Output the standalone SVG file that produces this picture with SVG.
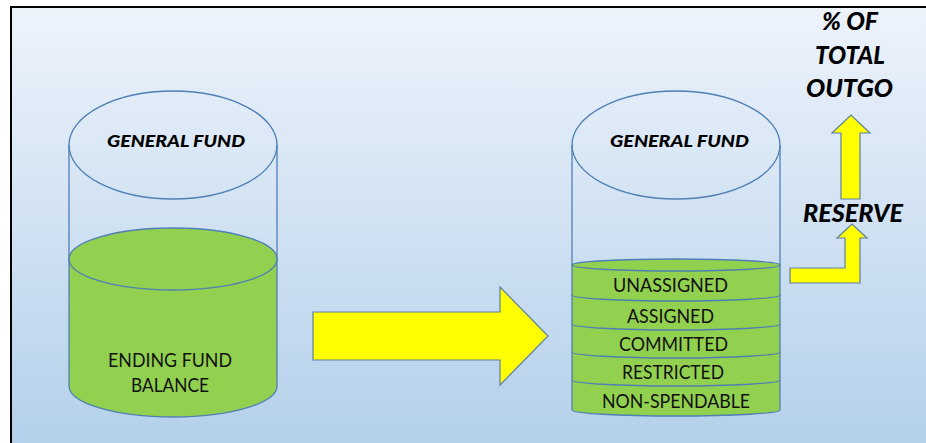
<svg xmlns="http://www.w3.org/2000/svg" width="926" height="443" viewBox="0 0 926 443">
  <defs>
    <linearGradient id="bg" x1="0" y1="0" x2="0" y2="1">
      <stop offset="0" stop-color="#edf3fb"/>
      <stop offset="1" stop-color="#b4d0ea"/>
    </linearGradient>
    <style>
      .line { fill: none; stroke: #4f7fb4; stroke-width: 1.3; }
      .liquid { fill: #92d050; stroke: #4f7fb4; stroke-width: 1.3; }
      .arrow { fill: #ffff00; stroke: #5b7fa8; stroke-width: 1.2; stroke-linejoin: miter; }
      .head { font-family: Lato, "Liberation Sans", sans-serif; font-weight: 900; font-style: italic; fill: #000; text-anchor: middle; }
      .label { font-family: Lato, "Liberation Sans", sans-serif; font-size: 19px; fill: #111; text-anchor: middle; }
    </style>
  </defs>

  <!-- page background and frame -->
  <rect x="0" y="0" width="926" height="443" fill="#ffffff"/>
  <rect x="11" y="7" width="915" height="436" fill="url(#bg)"/>
  <line x1="10" y1="7" x2="926" y2="7" stroke="#000" stroke-width="2"/>
  <line x1="11" y1="6" x2="11" y2="443" stroke="#000" stroke-width="2"/>

  <!-- left tank: whole ending fund balance -->
  <g id="tank-left">
    <path class="liquid" d="M69,259 L69,386 A104,31 0 0 0 277,386 L277,259 Z"/>
    <ellipse class="liquid" cx="173" cy="259" rx="104" ry="31"/>
    <line class="line" x1="69" y1="145" x2="69" y2="259"/>
    <line class="line" x1="277" y1="145" x2="277" y2="259"/>
    <ellipse class="line" cx="173" cy="145" rx="104" ry="54"/>
    <text class="head" x="176" y="147" font-size="17.5" textLength="138" lengthAdjust="spacingAndGlyphs">GENERAL FUND</text>
    <text class="label" x="170" y="367" textLength="124" lengthAdjust="spacingAndGlyphs">ENDING FUND</text>
    <text class="label" x="170" y="392" textLength="78" lengthAdjust="spacingAndGlyphs">BALANCE</text>
  </g>

  <!-- right tank: balance split into fund classes -->
  <g id="tank-right">
    <path class="liquid" d="M572,265 L572,410 A104,6 0 0 0 780,410 L780,265 Z"/>
    <ellipse class="liquid" cx="676" cy="265" rx="104" ry="6"/>
    <path class="line" d="M572,295 A104,6 0 0 0 780,295"/>
    <path class="line" d="M572,324 A104,6 0 0 0 780,324"/>
    <path class="line" d="M572,352 A104,6 0 0 0 780,352"/>
    <path class="line" d="M572,380 A104,6 0 0 0 780,380"/>
    <line class="line" x1="572" y1="145" x2="572" y2="265"/>
    <line class="line" x1="780" y1="145" x2="780" y2="265"/>
    <ellipse class="line" cx="676" cy="145" rx="104" ry="54"/>
    <text class="head" x="679.5" y="147" font-size="17.5" textLength="139" lengthAdjust="spacingAndGlyphs">GENERAL FUND</text>
  </g>

  <g id="layer-unassigned"><text class="label" x="670.5" y="292" textLength="115" lengthAdjust="spacingAndGlyphs">UNASSIGNED</text></g>
  <g id="layer-assigned"><text class="label" x="670.5" y="323" textLength="87" lengthAdjust="spacingAndGlyphs">ASSIGNED</text></g>
  <g id="layer-committed"><text class="label" x="673.5" y="351" textLength="109" lengthAdjust="spacingAndGlyphs">COMMITTED</text></g>
  <g id="layer-restricted"><text class="label" x="673" y="379" textLength="102" lengthAdjust="spacingAndGlyphs">RESTRICTED</text></g>
  <g id="layer-nonspendable"><text class="label" x="676" y="408" textLength="148" lengthAdjust="spacingAndGlyphs">NON-SPENDABLE</text></g>

  <g id="reserve">
    <text class="head" x="853" y="222" font-size="24" textLength="100" lengthAdjust="spacingAndGlyphs">RESERVE</text>
  </g>
  <g id="outgo">
    <text class="head" x="850" y="30" font-size="24" textLength="56" lengthAdjust="spacingAndGlyphs">% OF</text>
    <text class="head" x="850" y="64" font-size="24" textLength="70" lengthAdjust="spacingAndGlyphs">TOTAL</text>
    <text class="head" x="849.5" y="97" font-size="24" textLength="87" lengthAdjust="spacingAndGlyphs">OUTGO</text>
  </g>

  <!-- connectors -->
  <g id="connectors">
    <polygon class="arrow" points="313,312 500,312 500,287 548,336 500,385 500,360 313,360"/>
    <polygon class="arrow" points="790,268 845,268 845,238 837,238 852,224 867,238 860,238 860,283 790,283"/>
    <polygon class="arrow" points="841,199 841,133 832,133 851,115 870,133 860,133 860,199"/>
  </g>
</svg>
